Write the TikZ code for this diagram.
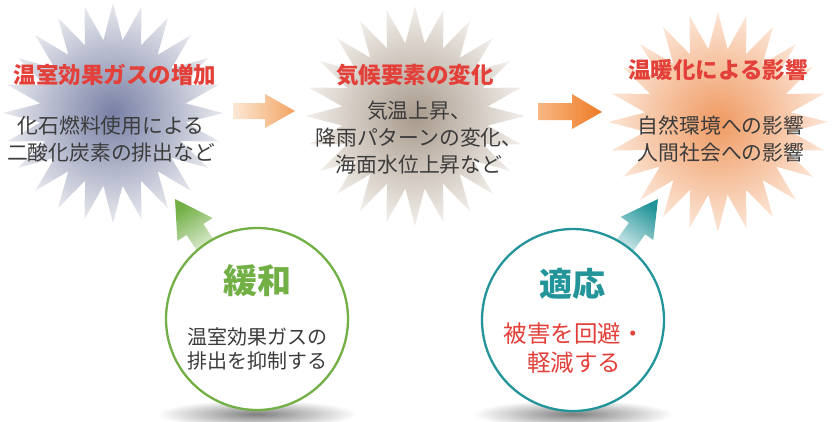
\documentclass[tikz,border=0pt]{standalone}
\usepackage{fontspec}
\newfontfamily\jp{Noto Sans CJK JP}
\usetikzlibrary{shapes.geometric}
\definecolor{titlered}{HTML}{E3403A}
\definecolor{bodygray}{HTML}{3C3C3C}
\definecolor{mgreen}{HTML}{72AF45}
\definecolor{mteal}{HTML}{23959A}
\definecolor{sAin}{HTML}{7880A5}
\definecolor{sAout}{HTML}{E8E9EE}
\definecolor{sBin}{HTML}{A89A8C}
\definecolor{sBout}{HTML}{F3EFEB}
\definecolor{sCin}{HTML}{EF9A62}
\definecolor{sCout}{HTML}{FCE6D7}
\definecolor{arAl}{HTML}{FCE8D6}
\definecolor{arAr}{HTML}{F2A462}
\definecolor{arBl}{HTML}{F8B783}
\definecolor{arBr}{HTML}{EE7B26}
\begin{document}
\begin{tikzpicture}[x=1pt,y=-1pt,
  burst/.style={star, star points=24, star point ratio=1.5, minimum size=220pt, inner sep=0pt},
  ttl/.style={font=\jp\bfseries\fontsize{22.5}{24}\selectfont, text=titlered},
  body/.style={font=\jp\fontsize{20.8}{27}\selectfont, text=bodygray, align=center},
  ring/.style={circle, fill=white, line width=2.3pt, minimum size=182pt, inner sep=0pt},
]
\useasboundingbox (0,0) rectangle (832,421);
% starbursts
\node[burst, inner color=sAin, outer color=sAout] (s1) at (113,113) {};
\node[burst, inner color=sBin, outer color=sBout] (s2) at (415,116) {};
\node[burst, inner color=sCin, outer color=sCout] (s3) at (718,122) {};
% horizontal block arrows
\shade[left color=arAl, right color=arAr]
  (233,103) -- (265,103) -- (265,94) -- (295,111) -- (265,128) -- (265,119) -- (233,119) -- cycle;
\shade[left color=arBl, right color=arBr]
  (538,103) -- (572,103) -- (572,94) -- (602,112) -- (572,129) -- (572,120) -- (538,120) -- cycle;
% shadows under circles
\shade[inner color=black!50, outer color=white] (257,414) ellipse [x radius=100pt, y radius=14pt];
\shade[inner color=black!50, outer color=white] (573,414) ellipse [x radius=100pt, y radius=14pt];
% diagonal arrows
\shade[shading=axis, top color=mgreen, bottom color=mgreen!15, shading angle=33]
  (175,199) -- (212.6,218.0) -- (203.4,224.0) -- (219.0,247.8) -- (202.2,258.8)
  -- (186.6,235.0) -- (177.4,241.0) -- cycle;
\shade[shading=axis, top color=mteal, bottom color=mteal!15, shading angle=-35]
  (658,199) -- (653.3,240.1) -- (645.2,234.3) -- (628.4,257.8) -- (612.1,246.2)
  -- (628.9,222.7) -- (620.7,216.9) -- cycle;
% circles
\node[ring, draw=mgreen] (c1) at (257,319) {};
\node[ring, draw=mteal] (c2) at (573,320) {};
% star texts
\node[ttl] (t1) at (115,75) {温室効果ガスの増加};
\node[body] (b1) at (111,139) {化石燃料使用による\\二酸化炭素の排出など};
\node[ttl] (t2) at (415,75) {気候要素の変化};
\node[body] (b2) at (419,138) {気温上昇、\\降雨パターンの変化、\\海面水位上昇など};
\node[ttl] (t3) at (718,70) {温暖化による影響};
\node[body] (b3) at (721,139) {自然環境への影響\\人間社会への影響};
% circle texts
\node[font=\jp\bfseries\fontsize{34}{36}\selectfont, text=mgreen] (g1) at (257,281) {緩和};
\node[font=\jp\fontsize{20}{24}\selectfont, text=bodygray, align=center] (g2) at (257,349) {温室効果ガスの\\排出を抑制する};
\node[font=\jp\bfseries\fontsize{33}{36}\selectfont, text=mteal] (h1) at (572,284) {適応};
\node[font=\jp\fontsize{23.5}{29}\selectfont, text=titlered, align=center] (h2) at (574,348) {被害を回避・\\軽減する};
\end{tikzpicture}
\end{document}
